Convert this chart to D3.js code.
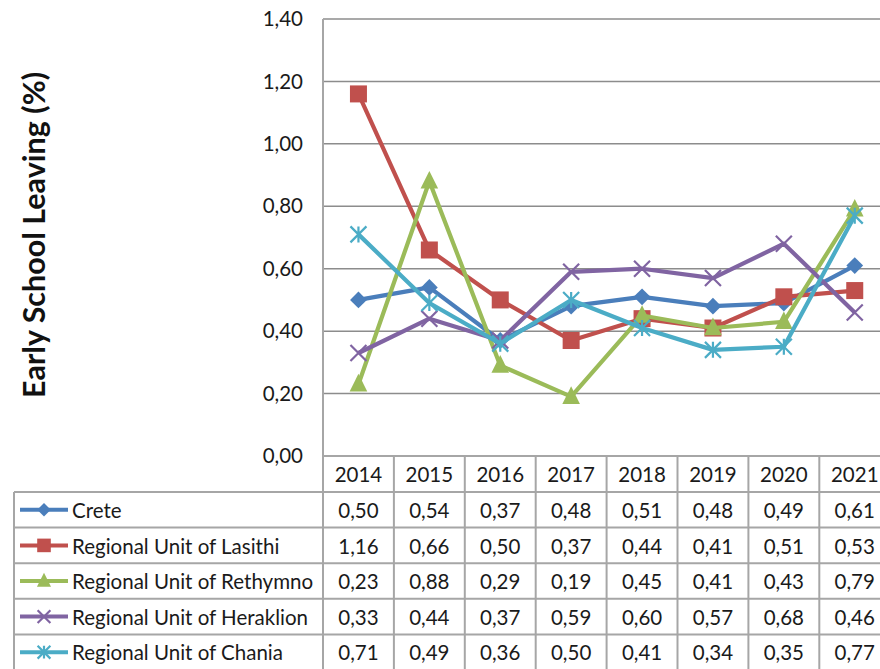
<!DOCTYPE html>
<html><head><meta charset="utf-8">
<script src="https://cdn.jsdelivr.net/npm/d3@7"></script>
<style>body{margin:0;background:#fff;}svg{display:block;}</style>
</head><body>
<script>
const years = ["2014","2015","2016","2017","2018","2019","2020","2021"];
const seriesNames = ["Crete","Regional Unit of Lasithi","Regional Unit of Rethymno","Regional Unit of Heraklion","Regional Unit of Chania"];
const crete     = [0.50,0.54,0.37,0.48,0.51,0.48,0.49,0.61];
const lasithi   = [1.16,0.66,0.50,0.37,0.44,0.41,0.51,0.53];
const rethymno  = [0.23,0.88,0.29,0.19,0.45,0.41,0.43,0.79];
const heraklion = [0.33,0.44,0.37,0.59,0.60,0.57,0.68,0.46];
const chania    = [0.71,0.49,0.36,0.50,0.41,0.34,0.35,0.77];
const yTicks = [0,0.2,0.4,0.6,0.8,1.0,1.2,1.4];
const yTitle = "Early School Leaving (%)";

const colors = ["#4a7ebb","#c0504d","#9bbb59","#8064a2","#4bacc6"];
const shapes = ["diamond","square","triangle","x","star"];
const values = [crete,lasithi,rethymno,heraklion,chania];

const W=880,H=669;
const svg=d3.select("body").append("svg").attr("width",W).attr("height",H);
const font="Lato, 'Open Sans', sans-serif";
const fs=20.5;
const pLeft=323, pTop=19, pBottom=456, colW=70.9;
const x=d3.scaleBand().domain(years).range([pLeft,pLeft+colW*years.length]);
const y=d3.scaleLinear().domain([0,1.4]).range([pBottom,pTop]);
const fmt=v=>d3.format(".2f")(v).replace(".",",");
const grid="#8c8c8c";

svg.append("g").selectAll("line").data(yTicks.filter(d=>d>0)).join("line")
  .attr("x1",pLeft).attr("x2",W).attr("y1",d=>y(d)).attr("y2",d=>y(d))
  .attr("stroke",grid).attr("stroke-width",1.5);
svg.append("g").selectAll("text").data(yTicks).join("text")
  .attr("x",303).attr("y",d=>y(d)).attr("dy","0.35em").attr("text-anchor","end")
  .attr("font-family",font).attr("font-size",fs).attr("fill","#1a1a1a").text(fmt);
svg.append("text").attr("transform","translate(34,235) rotate(-90)").attr("dy","0.35em")
  .attr("text-anchor","middle").attr("font-family",font).attr("font-weight","bold")
  .attr("font-size",30.5).attr("fill","#111").text(yTitle);

const rowTop=492, rowH=35.6, tableLeft=14;
const tg=svg.append("g");
const tableColor="#a6a6a6";
tg.append("line").attr("x1",pLeft).attr("x2",W).attr("y1",pBottom).attr("y2",pBottom).attr("stroke",tableColor).attr("stroke-width",2);
for(let i=0;i<=seriesNames.length;i++){
  tg.append("line").attr("x1",tableLeft).attr("x2",W).attr("y1",rowTop+i*rowH).attr("y2",rowTop+i*rowH).attr("stroke",tableColor).attr("stroke-width",2);
}
tg.append("line").attr("x1",pLeft).attr("x2",pLeft).attr("y1",pTop).attr("y2",H).attr("stroke",tableColor).attr("stroke-width",2);
tg.append("line").attr("x1",tableLeft).attr("x2",tableLeft).attr("y1",rowTop).attr("y2",H).attr("stroke",tableColor).attr("stroke-width",2);
years.forEach((yr,i)=>{
  if(i>0) tg.append("line").attr("x1",x(yr)).attr("x2",x(yr)).attr("y1",pBottom).attr("y2",H).attr("stroke",tableColor).attr("stroke-width",2);
});
tg.selectAll("text.yr").data(years).join("text").attr("class","yr")
  .attr("x",d=>x(d)+x.bandwidth()/2).attr("y",pBottom+rowH/2+1).attr("dy","0.35em")
  .attr("text-anchor","middle").attr("font-family",font).attr("font-size",fs).attr("fill","#1a1a1a").text(d=>d);

function marker(g,shape,color,cx,cy,s){
  if(shape==="diamond"){
    g.append("path").attr("d",`M${cx},${cy-s*0.6}L${cx+s*0.6},${cy}L${cx},${cy+s*0.6}L${cx-s*0.6},${cy}Z`).attr("fill",color);
  } else if(shape==="square"){
    g.append("rect").attr("x",cx-s/2).attr("y",cy-s/2).attr("width",s).attr("height",s).attr("fill",color);
  } else if(shape==="triangle"){
    g.append("path").attr("d",`M${cx},${cy-s*0.65}L${cx+s*0.55},${cy+s*0.45}L${cx-s*0.55},${cy+s*0.45}Z`).attr("fill",color);
  } else if(shape==="x"){
    const h=s*0.5;
    g.append("path").attr("d",`M${cx-h},${cy-h}L${cx+h},${cy+h}M${cx-h},${cy+h}L${cx+h},${cy-h}`).attr("stroke",color).attr("stroke-width",2.2);
  } else if(shape==="star"){
    const h=s*0.5;
    g.append("path").attr("d",`M${cx-h},${cy-h}L${cx+h},${cy+h}M${cx-h},${cy+h}L${cx+h},${cy-h}M${cx},${cy-h}L${cx},${cy+h}`).attr("stroke",color).attr("stroke-width",2.2);
  }
}

const line=d3.line().x((d,i)=>x(years[i])+x.bandwidth()/2).y(d=>y(d));
const sizes=[14,17,16,16,16];
values.forEach((vals,si)=>{
  const g=svg.append("g");
  g.append("path").attr("d",line(vals)).attr("fill","none").attr("stroke",colors[si]).attr("stroke-width",4.2).attr("stroke-linejoin","round");
  vals.forEach((v,i)=>marker(g,shapes[si],colors[si],x(years[i])+x.bandwidth()/2,y(v),sizes[si]));
});

seriesNames.forEach((name,si)=>{
  const cy=rowTop+si*rowH+rowH/2;
  const g=svg.append("g");
  g.append("line").attr("x1",20).attr("x2",68).attr("y1",cy).attr("y2",cy).attr("stroke",colors[si]).attr("stroke-width",4);
  marker(g,shapes[si],colors[si],44,cy,sizes[si]*0.8);
  g.append("text").attr("x",72).attr("y",cy+1).attr("dy","0.35em").attr("font-family",font).attr("font-size",fs).attr("fill","#1a1a1a").text(name);
  g.selectAll("text.v").data(values[si]).join("text").attr("class","v")
    .attr("x",(d,i)=>x(years[i])+x.bandwidth()/2).attr("y",cy+1).attr("dy","0.35em")
    .attr("text-anchor","middle").attr("font-family",font).attr("font-size",fs).attr("fill","#1a1a1a").text(fmt);
});
</script>
</body></html>
